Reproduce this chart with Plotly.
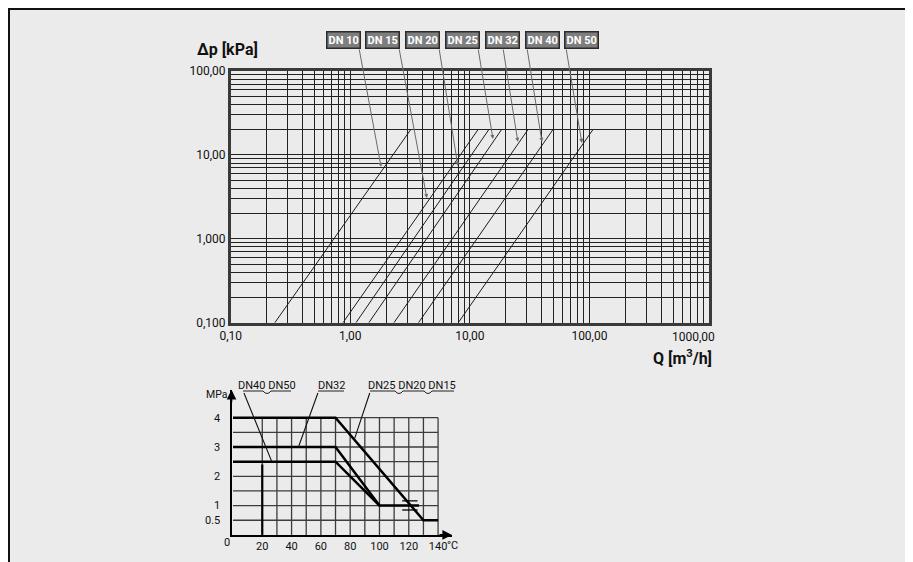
import numpy as np
import plotly.graph_objects as go

W, H = 913, 562
OFF = 8  # the page body adds an 8px margin around the figure
FONT = "Roboto, Liberation Sans, sans-serif"

# pressure loss diagram: each DN is a straight line (log-log) from 0.1 kPa to 20 kPa
dn_names = ["DN 10", "DN 15", "DN 20", "DN 25", "DN 32", "DN 40", "DN 50"]
q_start = [0.234, 0.869, 1.116, 1.43, 2.32, 3.72, 8.0]      # m3/h at dp_start
q_end = [3.20, 11.7, 14.4, 18.4, 30.6, 49.5, 107.0]         # m3/h at dp_end
dp_start = 0.1
dp_end = 20.0
# where the label leaders touch the lines
tip_q = [1.81, 4.37, 7.94, 15.6, 25.2, 40.1, 86.5]
tip_dp = [7.2, 3.06, 7.38, 15.5, 14.3, 14.3, 13.9]

x_ticks = [0.1, 1, 10, 100]
x_ticktext = ["0,10", "1,00", "10,00", "100,00"]
y_ticks = [0.1, 1, 10, 100]
y_ticktext = ["0,100", "1,000", "10,00", "100,00"]

# pressure / temperature diagram
pt_names = ["DN25 DN20 DN15", "DN32", "DN40 DN50"]
pt_temp = [[0, 70, 130, 140], [0, 70, 100, 127], [0, 70, 100]]
pt_press = [[4, 4, 0.5, 0.5], [3, 3, 1, 1], [2.5, 2.5, 1]]
pt_tip_temp = [82.8, 44.7, 26.5]
pt_tip_press = [3.25, 3.0, 2.5]
t_ticks = [20, 40, 60, 80, 100, 120, 140]
p_ticks = [0.5, 1, 2, 3, 4]
t_grid = [20, 30, 40, 50, 60, 70, 80, 90, 100, 110, 120, 130, 140]
p_grid = [0.5, 1, 1.5, 2, 2.5, 3, 3.5, 4]


def px(x):
    return (x - OFF) / W


def py(y):
    return 1 - (y - OFF) / H


# main chart pixel box (0.1 .. 1000 , 0.1 .. 100)
X0, X1, Y0, Y1 = 230.7, 709.0, 322.7, 71.0
xdec = (X1 - X0) / 4
ydec = (Y0 - Y1) / 3


def lq(x):  # pixel x -> log10(Q)
    return -1 + (x - X0) / xdec


def ldp(y):  # pixel y -> log10(dp)
    return -1 + (Y0 - y) / ydec


fig = go.Figure()

for i in range(len(dn_names)):
    fig.add_trace(go.Scatter(x=[q_start[i], q_end[i]], y=[dp_start, dp_end], mode="lines",
                             line=dict(color="#1c1c1c", width=1), name=dn_names[i],
                             xaxis="x", yaxis="y", showlegend=False, hoverinfo="skip"))

for i in range(len(pt_names)):
    fig.add_trace(go.Scatter(x=pt_temp[i], y=pt_press[i], mode="lines",
                             line=dict(color="#000", width=2.5), name=pt_names[i],
                             xaxis="x2", yaxis="y2", showlegend=False, hoverinfo="skip"))
# small marks around 120 C and the heavy 20 C line
fig.add_trace(go.Scatter(x=[20, 20], y=[0, 2.4], mode="lines", line=dict(color="#000", width=2.2),
                         xaxis="x2", yaxis="y2", showlegend=False, hoverinfo="skip"))
fig.add_trace(go.Scatter(x=[115.5, 126, None, 115.5, 126], y=[1.16, 1.16, None, 0.85, 0.85], mode="lines",
                         line=dict(color="#000", width=1.3), xaxis="x2", yaxis="y2",
                         showlegend=False, hoverinfo="skip"))

grid_q = [m * 10.0 ** e for e in range(-1, 3) for m in range(1, 10)] + [1000]
grid_dp = [m * 10.0 ** e for e in range(-1, 2) for m in range(1, 10)] + [100]

shapes = []
# grey page with black frame on top/left
shapes.append(dict(type="rect", xref="paper", yref="paper", x0=px(9), x1=1.05, y0=-0.05, y1=py(9),
                   line=dict(color="#111", width=2), fillcolor="#ebebeb", layer="below"))
for t in t_grid:
    shapes.append(dict(type="line", xref="x2", yref="y2", x0=t, x1=t, y0=0, y1=4,
                       line=dict(color="#3c3c3c", width=1.3), layer="between"))
for p in p_grid:
    shapes.append(dict(type="line", xref="x2", yref="y2", x0=0, x1=140, y0=p, y1=p,
                       line=dict(color="#3c3c3c", width=1.3), layer="between"))


def underline(x0, x1, y, dips):
    d = f"M {px(x0)},{py(y)}"
    for m in dips:
        d += f" L {px(m - 4)},{py(y)} Q {px(m)},{py(y + 5)} {px(m + 4)},{py(y)}"
    d += f" L {px(x1)},{py(y)}"
    return dict(type="path", xref="paper", yref="paper", path=d, line=dict(color="#222", width=1))


shapes.append(underline(370, 454, 391, [399, 428]))
shapes.append(underline(318, 344, 391, []))
shapes.append(underline(243, 291, 391, [267]))


def text(x, y, s, size, anchor="center", bold=False):
    return dict(xref="paper", yref="paper", x=px(x), y=py(y), xanchor=anchor, yanchor="middle",
                text=("<b>" + s + "</b>") if bold else s, showarrow=False,
                font=dict(family=FONT, size=size, color="#111"))


ann = []
ann.append(text(195, 50, "Δp [kPa]", 16, "left", True))
ann.append(text(714, 357, "Q [m<sup>3</sup>/h]", 16, "right", True))
ann.append(text(693, 337, "1000,00", 12))

box_x = [343, 382, 422.5, 462, 502, 542, 581]
tail_x = [359, 399, 439, 478, 503, 527, 566]
for i, name in enumerate(dn_names):
    ann.append(dict(xref="paper", yref="paper", x=px(box_x[i]), y=py(40), xanchor="center",
                    yanchor="middle", text="<b>" + name + "</b>",
                    showarrow=False, bgcolor="#7e7e7e", bordercolor="#2a2a2a", borderwidth=1.5,
                    borderpad=1, font=dict(family=FONT, size=11, color="white")))
    ann.append(dict(xref="x", yref="y", x=np.log10(tip_q[i]), y=np.log10(tip_dp[i]), text="",
                    showarrow=True, axref="x", ayref="y", ax=lq(tail_x[i]), ay=ldp(48),
                    arrowhead=2, arrowsize=0.8, arrowwidth=1, arrowcolor="#6a6a6a"))

# pressure/temperature labels
lab_x = [411.7, 331.7, 266.5]
lab_tail = [(370, 391.5), (318.3, 391.5), (243.3, 391.5)]
# pixel scale of the small chart
T0, TPX, P0, PPX = 233.0, 1.4617, 534.9, 29.3
for i, name in enumerate(pt_names):
    ann.append(text(lab_x[i], 385, name, 11))
    tipx = T0 + pt_tip_temp[i] * TPX
    tipy = P0 - pt_tip_press[i] * PPX
    ann.append(dict(xref="x2", yref="y2", x=pt_tip_temp[i], y=pt_tip_press[i], text="", showarrow=True,
                    ax=lab_tail[i][0] - tipx, ay=lab_tail[i][1] - tipy, arrowhead=0, arrowwidth=1.1,
                    arrowcolor="#111"))

ann.append(text(217, 394, "MPa", 10.5))
ann.append(text(227, 542, "0", 11))
ann.append(text(452.5, 545, "°C", 11))
# axis arrows
ann.append(dict(xref="x2", yref="y2", x=149.5, y=0, text="", showarrow=True, ax=-14, ay=0,
                arrowhead=2, arrowsize=1.2, arrowwidth=1.6, arrowcolor="#000"))
ann.append(dict(xref="x2", yref="y2", x=-1, y=4.95, text="", showarrow=True, ax=0, ay=14,
                arrowhead=2, arrowsize=1.2, arrowwidth=1.6, arrowcolor="#000"))

fig.update_layout(
    width=W, height=H, autosize=False,
    margin=dict(l=0, r=0, t=0, b=0),
    paper_bgcolor="white", plot_bgcolor="rgba(0,0,0,0)",
    showlegend=False,
    shapes=shapes, annotations=ann,
    xaxis=dict(type="log", range=[-1, 3], domain=[px(X0), px(X1)], anchor="y", automargin=False,
               tickvals=grid_q, ticktext=[x_ticktext[x_ticks.index(v)] if v in x_ticks else "" for v in grid_q],
               showgrid=True, gridcolor="#222", gridwidth=1.4,
               showline=True, mirror=True, linecolor="#3a3a3a", linewidth=2.5,
               ticks="", tickfont=dict(family=FONT, size=12, color="#111"), zeroline=False),
    yaxis=dict(type="log", range=[-1, 2], domain=[py(Y0), py(Y1)], anchor="x", automargin=False,
               tickvals=grid_dp, ticktext=[y_ticktext[y_ticks.index(v)] if v in y_ticks else "" for v in grid_dp],
               showgrid=True, gridcolor="#222", gridwidth=1.4,
               showline=True, mirror=True, linecolor="#3a3a3a", linewidth=2.5,
               ticks="", tickfont=dict(family=FONT, size=12, color="#111"), zeroline=False),
    xaxis2=dict(range=[-1, 149.5], domain=[px(231.5), px(452)], anchor="y2", automargin=False,
                tickvals=t_ticks, ticktext=[str(t) for t in t_ticks], showgrid=False, zeroline=False,
                showline=True, linecolor="#000", linewidth=2, ticks="",
                tickfont=dict(family=FONT, size=11, color="#111")),
    yaxis2=dict(range=[0, 4.95], domain=[py(534.9), py(534.9 - 4.95 * 29.3)], anchor="x2", automargin=False,
                tickvals=p_ticks, ticktext=["0.5", "1", "2", "3", "4"], showgrid=False, zeroline=False,
                showline=True, linecolor="#000", linewidth=2, ticks="", ticklabelstandoff=7,
                tickfont=dict(family=FONT, size=11, color="#111")),
)

fig.write_html("out.html")
